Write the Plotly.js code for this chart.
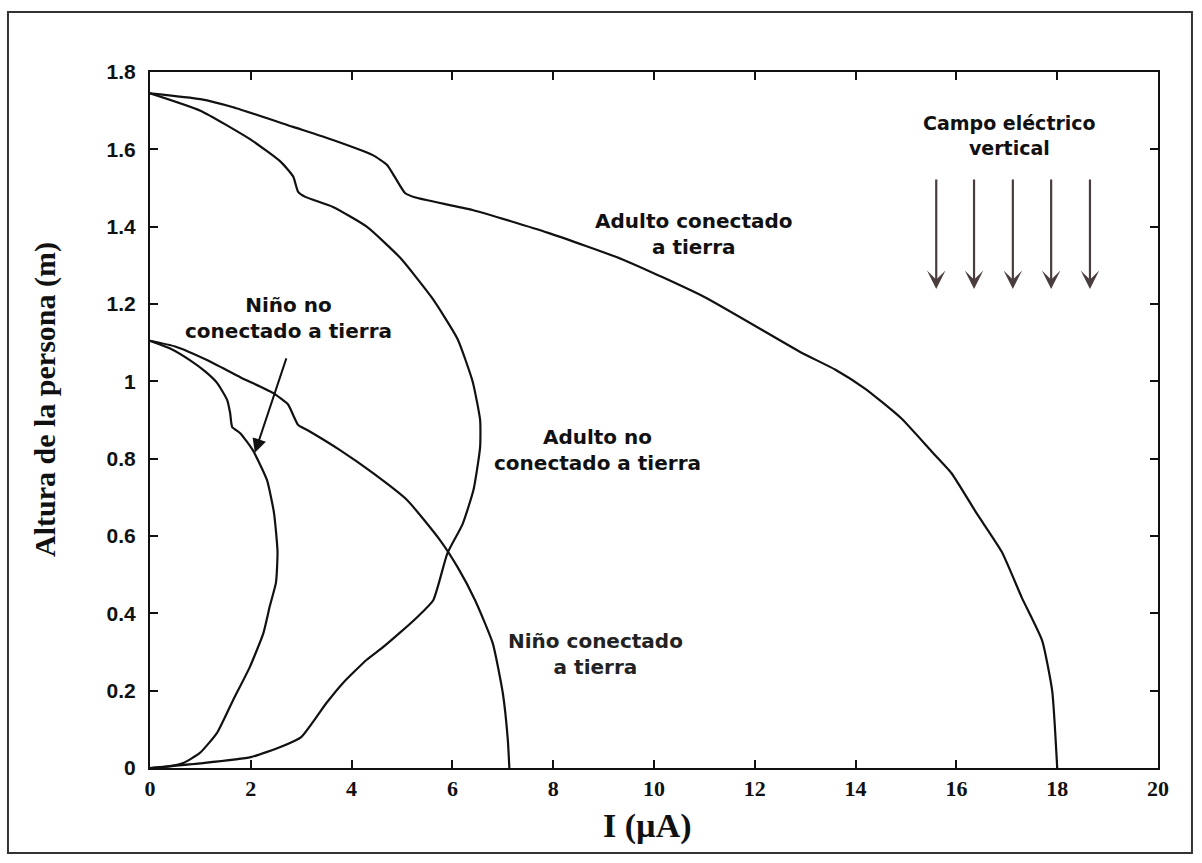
<!DOCTYPE html>
<html>
<head>
<meta charset="utf-8">
<script src="https://cdn.plot.ly/plotly-3.0.1.min.js"></script>
<style>
  html, body { margin: 0; padding: 0; background: #fff; }
  #chart { width: 1202px; height: 863px; }
</style>
</head>
<body>
<div id="chart"></div>
<script>
// Current through the body I (µA) versus height along the person (m)

// Adult, grounded
const adultGroundedI = [0, 1.0, 1.65, 2.84, 3.63, 4.42, 4.7, 4.85, 5.06, 5.25, 6.4, 7.9, 9.4, 11.0, 12.9, 13.6, 14.2, 14.9, 15.5, 15.9, 16.4, 16.9, 17.3, 17.7, 17.9, 18.0];
const adultGroundedH = [1.745, 1.73, 1.709, 1.658, 1.624, 1.585, 1.56, 1.53, 1.487, 1.476, 1.443, 1.384, 1.314, 1.218, 1.076, 1.03, 0.98, 0.905, 0.82, 0.763, 0.659, 0.559, 0.44, 0.33, 0.2, 0];

// Adult, not grounded
const adultFloatingI = [0, 1.0, 2.0, 2.6, 2.84, 2.94, 3.08, 3.63, 4.3, 4.96, 5.6, 6.1, 6.4, 6.55, 6.55, 6.42, 6.2, 5.9, 5.62, 5.3, 4.96, 4.6, 4.3, 3.83, 3.5, 3.0, 2.6, 2.0, 1.0, 0];
const adultFloatingH = [1.745, 1.70, 1.625, 1.567, 1.53, 1.49, 1.477, 1.451, 1.40, 1.32, 1.215, 1.11, 1.0, 0.9, 0.83, 0.72, 0.63, 0.555, 0.434, 0.39, 0.35, 0.31, 0.28, 0.22, 0.168, 0.08, 0.055, 0.028, 0.012, 0];

// Child, grounded
const childGroundedI = [0, 0.5, 1.13, 1.8, 2.44, 2.74, 2.84, 2.94, 3.12, 3.77, 4.42, 5.1, 5.75, 6.1, 6.45, 6.8, 7.0, 7.1, 7.13];
const childGroundedH = [1.105, 1.09, 1.055, 1.01, 0.97, 0.94, 0.913, 0.887, 0.874, 0.822, 0.763, 0.693, 0.59, 0.52, 0.434, 0.323, 0.194, 0.072, 0];

// Child, not grounded
const childFloatingI = [0, 0.4, 0.79, 1.1, 1.33, 1.53, 1.59, 1.63, 1.79, 2.04, 2.32, 2.46, 2.53, 2.5, 2.38, 2.25, 1.98, 1.65, 1.33, 0.99, 0.66, 0.3, 0];
const childFloatingH = [1.105, 1.085, 1.055, 1.025, 0.996, 0.952, 0.918, 0.882, 0.866, 0.822, 0.745, 0.66, 0.56, 0.48, 0.42, 0.349, 0.261, 0.176, 0.091, 0.039, 0.013, 0.003, 0];

// Axis ticks
const xTickVals = [0, 2, 4, 6, 8, 10, 12, 14, 16, 18, 20];
const xTickText = ['0', '2', '4', '6', '8', '10', '12', '14', '16', '18', '20'];
const yTickVals = [0, 0.2, 0.4, 0.6, 0.8, 1, 1.2, 1.4, 1.6, 1.8];
const yTickText = ['0', '0.2', '0.4', '0.6', '0.8', '1', '1.2', '1.4', '1.6', '1.8'];

// Field arrows (x positions) in the upper right corner
const fieldArrowX = [15.6, 16.35, 17.12, 17.88, 18.65];
const fieldArrowTop = 1.526;
const fieldArrowTip = 1.239;

const lineStyle = { color: '#111', width: 2.2, shape: 'spline', smoothing: 0.5 };
function curve(xs, ys) {
  return { x: xs, y: ys, type: 'scatter', mode: 'lines', line: lineStyle, hoverinfo: 'skip', showlegend: false };
}

const data = [
  curve(adultGroundedI, adultGroundedH),
  curve(adultFloatingI, adultFloatingH),
  curve(childGroundedI, childGroundedH),
  curve(childFloatingI, childFloatingH)
];

const labelFont = { family: 'DejaVu Sans, Verdana, sans-serif', size: 20, color: '#111', weight: 700 };
const tickSans = { family: 'Liberation Sans, Arial, sans-serif', size: 21, color: '#111', weight: 700 };
const serifBold = { family: 'Liberation Serif, Times New Roman, serif', size: 22, color: '#111', weight: 700 };

function label(text, x, y, size, color) {
  return {
    text: text, x: x, y: y, xref: 'x', yref: 'y', showarrow: false,
    xanchor: 'center', yanchor: 'middle', align: 'center',
    font: Object.assign({}, labelFont, { size: size || 20, color: color || '#111' })
  };
}

const annotations = [
  label('Adulto conectado<br>a tierra', 10.80, 1.381),
  label('Campo eléctrico<br>vertical', 17.06, 1.636, 19),
  label('Niño no<br>conectado a tierra', 2.74, 1.164),
  label('Adulto no<br>conectado a tierra', 8.87, 0.822),
  label('Niño conectado<br>a tierra', 8.83, 0.295, 20, '#222'),
  {
    text: '', x: 2.08, y: 0.815, xref: 'x', yref: 'y',
    ax: 32, ay: -96, showarrow: true,
    arrowhead: 2, arrowsize: 1.4, arrowwidth: 2, arrowcolor: '#111', standoff: 0
  },
  {
    text: 'Altura de la persona (m)', xref: 'paper', yref: 'paper',
    x: -0.104, y: 0.529, textangle: -90, showarrow: false,
    xanchor: 'center', yanchor: 'middle',
    font: Object.assign({}, serifBold, { size: 30 })
  },
  {
    text: 'I (µA)', xref: 'paper', yref: 'paper',
    x: 0.494, y: -0.0833, showarrow: false,
    xanchor: 'center', yanchor: 'middle',
    font: Object.assign({}, serifBold, { size: 34 })
  }
];

fieldArrowX.forEach(function (xv) {
  annotations.push({
    text: '', x: xv, y: fieldArrowTip, xref: 'x', yref: 'y',
    ax: xv, ay: fieldArrowTop, axref: 'x', ayref: 'y',
    showarrow: true, arrowhead: 3, arrowsize: 1.4, arrowwidth: 2.2,
    arrowcolor: '#4a3d3e', standoff: 0
  });
});

const layout = {
  width: 1202,
  height: 863,
  margin: { l: 150, r: 44, t: 72, b: 95 },
  paper_bgcolor: '#ffffff',
  plot_bgcolor: '#ffffff',
  showlegend: false,
  xaxis: {
    range: [0, 20], tickvals: xTickVals, ticktext: xTickText,
    showgrid: false, zeroline: false,
    showline: true, linecolor: '#111', linewidth: 2, mirror: 'ticks',
    ticks: 'inside', ticklen: 8, tickwidth: 2, tickcolor: '#111',
    ticklabelstandoff: 0,
    tickfont: serifBold
  },
  yaxis: {
    range: [0, 1.8], tickvals: yTickVals, ticktext: yTickText,
    showgrid: false, zeroline: false,
    showline: true, linecolor: '#111', linewidth: 2, mirror: 'ticks',
    ticks: 'inside', ticklen: 8, tickwidth: 2, tickcolor: '#111',
    ticklabelstandoff: 8,
    tickfont: tickSans
  },
  annotations: annotations,
  shapes: [
    {
      type: 'rect', xref: 'paper', yref: 'paper',
      x0: -0.1409, x1: 1.0337, y0: -0.1221, y1: 1.0862,
      line: { color: '#333', width: 2 }, fillcolor: 'rgba(0,0,0,0)'
    }
  ]
};

Plotly.newPlot('chart', data, layout, { staticPlot: true, displayModeBar: false });
</script>
</body>
</html>
